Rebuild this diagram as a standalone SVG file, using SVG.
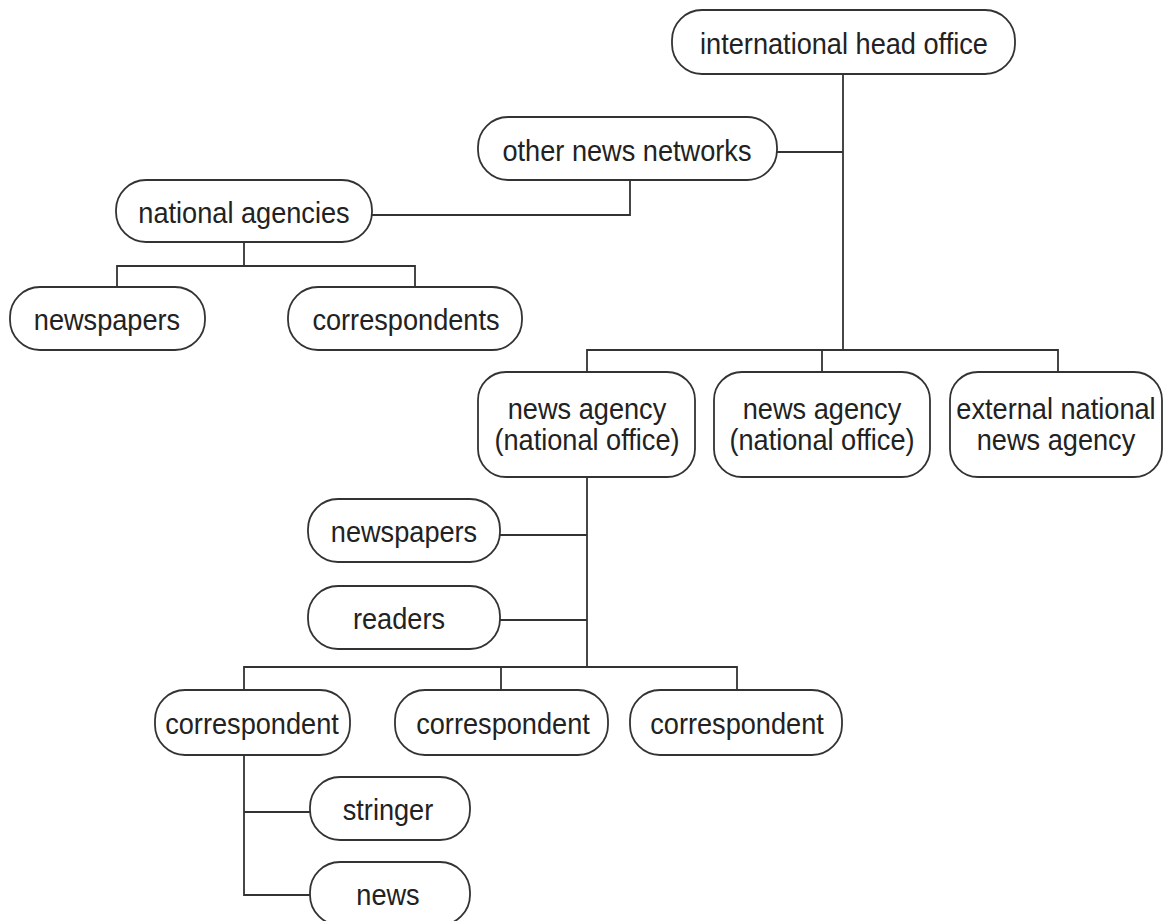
<svg xmlns="http://www.w3.org/2000/svg" width="1172" height="921" viewBox="0 0 1172 921">
<style>
.n rect{fill:#fff;stroke:#333;stroke-width:1.8}
.n text{font-family:"Liberation Sans",Arial,sans-serif;font-size:28px;fill:#222;text-anchor:middle;transform-box:fill-box;transform-origin:center;transform:scale(0.97,1.08)}
#connectors path{fill:none;stroke:#333;stroke-width:1.8}
</style>
<rect width="1172" height="921" fill="#fff"/>
<g id="connectors">
<path d="M843 74V350"/>
<path d="M777 152H843"/>
<path d="M630 180V215H372"/>
<path d="M244 242V266M117 287V266H415V287"/>
<path d="M587 372V350H1058V372M822 350V372"/>
<path d="M587 477V667"/>
<path d="M500 535H587M500 620H587"/>
<path d="M244 690V667H737V690M501 667V690"/>
<path d="M244 755V895H310M244 812H310"/>
</g>
<g id="n1" class="n"><rect x="672" y="10" width="343" height="64" rx="30"/><text x="844" y="53">international head office</text></g>
<g id="n2" class="n"><rect x="478" y="117" width="299" height="63" rx="30"/><text x="627" y="160">other news networks</text></g>
<g id="n3" class="n"><rect x="116" y="180" width="256" height="62" rx="30"/><text x="244" y="222">national agencies</text></g>
<g id="n4" class="n"><rect x="10" y="287" width="195" height="63" rx="30"/><text x="107" y="329">newspapers</text></g>
<g id="n5" class="n"><rect x="288" y="287" width="234" height="63" rx="30"/><text x="406" y="329">correspondents</text></g>
<g id="n6" class="n"><rect x="478" y="372" width="217" height="105" rx="28"/><text x="587" y="418">news agency</text><text x="587" y="449">(national office)</text></g>
<g id="n7" class="n"><rect x="714" y="372" width="216" height="105" rx="28"/><text x="822" y="418">news agency</text><text x="822" y="449">(national office)</text></g>
<g id="n8" class="n"><rect x="950" y="372" width="212" height="105" rx="28"/><text x="1056" y="418">external national</text><text x="1056" y="449">news agency</text></g>
<g id="n9" class="n"><rect x="308" y="499" width="192" height="63" rx="30"/><text x="404" y="541">newspapers</text></g>
<g id="n10" class="n"><rect x="308" y="586" width="192" height="63" rx="30"/><text x="399" y="628">readers</text></g>
<g id="n11" class="n"><rect x="155" y="690" width="195" height="65" rx="30"/><text x="252" y="733">correspondent</text></g>
<g id="n12" class="n"><rect x="395" y="690" width="213" height="65" rx="30"/><text x="503" y="733">correspondent</text></g>
<g id="n13" class="n"><rect x="630" y="690" width="212" height="65" rx="30"/><text x="737" y="733">correspondent</text></g>
<g id="n14" class="n"><rect x="310" y="777" width="160" height="63" rx="30"/><text x="388" y="819">stringer</text></g>
<g id="n15" class="n"><rect x="310" y="862" width="160" height="63" rx="30"/><text x="388" y="904">news</text></g>
</svg>
